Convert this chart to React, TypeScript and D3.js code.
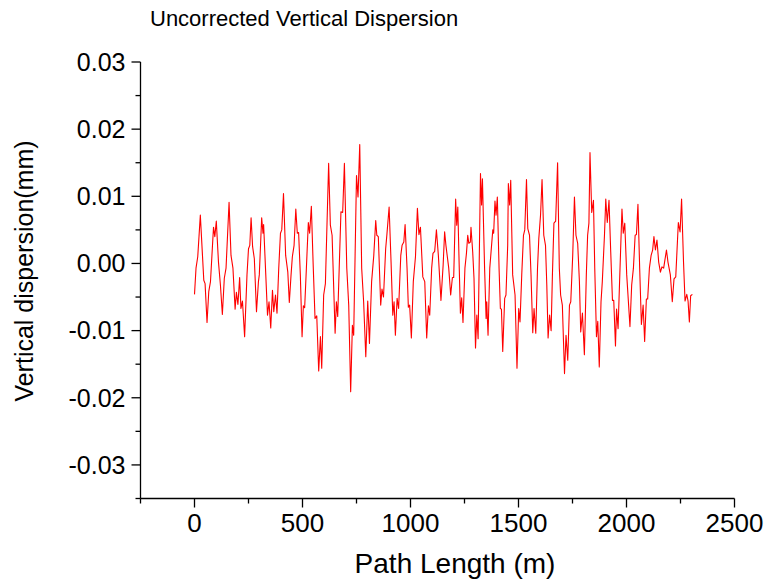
import React from "react";
import * as d3 from "d3";

const pathLength: number[] = [
  0, 7, 15, 27, 43, 49, 58, 66, 74, 88, 94, 101, 111, 120, 129, 138, 146, 160, 169, 178,
  188, 194, 201, 209, 215, 222, 232, 243, 250, 256, 262, 269, 277, 287, 296, 300, 311, 317, 320, 330,
  338, 345, 353, 361, 367, 375, 382, 390, 398, 404, 412, 422, 432, 439, 447, 453, 461, 469, 476, 482,
  490, 498, 504, 510, 518, 527, 533, 541, 549, 558, 566, 575, 583, 589, 598, 606, 621, 629, 637, 651,
  657, 663, 678, 686, 694, 705, 714, 723, 731, 737, 750, 757, 765, 774, 783, 793, 802, 810, 820, 830,
  839, 844, 851, 862, 868, 875, 885, 891, 901, 910, 918, 924, 930, 938, 945, 955, 961, 969, 975, 984,
  990, 996, 1004, 1013, 1023, 1032, 1039, 1046, 1057, 1066, 1075, 1083, 1089, 1098, 1104, 1112, 1120, 1129, 1141, 1151,
  1158, 1164, 1177, 1186, 1194, 1200, 1209, 1214, 1219, 1225, 1231, 1237, 1243, 1252, 1259, 1265, 1270, 1277, 1280, 1288,
  1294, 1301, 1307, 1313, 1324, 1329, 1333, 1343, 1350, 1353, 1359, 1367, 1381, 1385, 1391, 1396, 1402, 1410, 1416, 1421,
  1427, 1436, 1442, 1450, 1453, 1459, 1464, 1473, 1484, 1493, 1501, 1507, 1515, 1523, 1529, 1537, 1543, 1551, 1558, 1566,
  1572, 1580, 1588, 1594, 1602, 1609, 1617, 1625, 1631, 1637, 1644, 1651, 1657, 1664, 1672, 1681, 1689, 1695, 1703, 1713,
  1720, 1728, 1736, 1742, 1751, 1759, 1766, 1774, 1782, 1788, 1796, 1805, 1814, 1820, 1826, 1831, 1839, 1847, 1853, 1861,
  1867, 1874, 1882, 1888, 1898, 1904, 1911, 1919, 1927, 1935, 1941, 1949, 1954, 1961, 1969, 1979, 1985, 1992, 2001, 2016,
  2024, 2032, 2040, 2046, 2053, 2061, 2069, 2077, 2084, 2092, 2098, 2106, 2114, 2121, 2127, 2134, 2141, 2149, 2157, 2164,
  2172, 2185, 2192, 2203, 2212, 2220, 2228, 2240, 2248, 2255, 2264, 2271, 2279, 2285, 2291, 2297, 2305,
];

const verticalDispersion: number[] = [
  -0.0046, -0.0007, 0.001, 0.0072, -0.0025, -0.003, -0.0088, -0.0042, -0.0027, 0.0054, 0.004, 0.0063, 0.0002, -0.0032, -0.0076, -0.0022, -0.0007, 0.0091, 0.0012, -0.0007,
  -0.0068, -0.0043, -0.0061, -0.0021, -0.0067, -0.0056, -0.0109, -0.0017, 0.0022, 0.0027, 0.0068, 0.0025, 0.0007, -0.0072, -0.0027, -0.0017, 0.0068, 0.0045, 0.0058, -0.0017,
  -0.0077, -0.0057, -0.0096, -0.004, -0.0072, -0.0047, -0.0074, -0.0007, 0.0045, 0.005, 0.0104, 0.0012, -0.0013, -0.0058, -0.0017, 0.001, 0.0027, 0.0081, 0.0045, 0.0046,
  -0.0017, -0.0109, -0.0063, -0.0066, -0.0007, 0.0061, 0.0045, 0.0085, 0.0002, -0.0082, -0.0078, -0.016, -0.0109, -0.0156, -0.0047, -0.003, 0.0149, 0.0057, 0.0042, -0.0104,
  -0.0057, -0.0079, 0.0077, 0.0076, 0.0149, -0.0007, -0.0062, -0.0191, -0.0092, -0.0107, 0.0131, 0.0099, 0.0177, -0.0007, -0.0057, -0.0139, -0.0056, -0.0119, -0.0027, 0.0012,
  0.0064, 0.0042, 0.004, -0.0062, -0.0038, -0.005, 0.0022, 0.0044, 0.0084, 0.0002, -0.0077, -0.0057, -0.0107, -0.0052, -0.0067, 0.0012, 0.0027, 0.0032, 0.0058, -0.0007,
  -0.0065, -0.0062, -0.0111, -0.0027, 0.001, 0.0082, 0.0043, 0.0054, -0.002, -0.0027, -0.0111, -0.0063, -0.0077, -0.0007, 0.0015, 0.0018, 0.005, 0.0012, -0.0055, -0.0003,
  0.0047, 0.0027, -0.0007, -0.0047, -0.0021, -0.0021, 0.0096, 0.0057, 0.0084, 0.0002, -0.0074, -0.0051, -0.0088, -0.0007, 0.0015, 0.0042, 0.003, 0.0032, 0.0054, 0.0017,
  -0.0022, -0.0126, -0.0077, -0.0112, 0.0134, 0.0087, 0.0126, -0.0007, -0.0082, -0.0057, -0.0107, -0.0007, 0.005, 0.0045, 0.0093, 0.0072, 0.0099, -0.0007, -0.0067, -0.0068,
  -0.0131, -0.0052, -0.0047, 0.0027, 0.0119, 0.0087, 0.0124, -0.0017, -0.0047, -0.0156, -0.0067, -0.0087, -0.0017, 0.0042, 0.005, 0.0125, 0.0052, 0.0042, -0.0017, -0.0103,
  -0.0067, -0.0104, -0.0007, 0.0037, 0.0072, 0.0125, 0.0042, 0.0027, -0.0032, -0.0111, -0.0077, -0.01, -0.0017, 0.006, 0.0063, 0.015, -0.0007, -0.0047, -0.0062, -0.0164,
  -0.0107, -0.0144, -0.0062, -0.0057, 0.0012, 0.0099, 0.0042, 0.003, -0.0027, -0.0102, -0.0074, -0.0136, -0.0017, 0.0042, 0.006, 0.0165, 0.0076, 0.0094, -0.0007, -0.0109,
  -0.0086, -0.0154, -0.0057, -0.0027, 0.0042, 0.0096, 0.0061, 0.0094, 0.0017, -0.0055, -0.0055, -0.0123, -0.0068, -0.0097, -0.0017, 0.0081, 0.0045, 0.006, -0.0017, -0.0094,
  -0.0032, -0.0007, 0.0042, 0.0043, 0.0088, -0.0007, -0.0091, -0.0062, -0.0116, -0.0053, -0.0053, -0.0007, 0.0012, 0.002, 0.004, 0.002, 0.0035, 0.0002, -0.0013, -0.0005,
  -0.0007, 0.002, 0.0002, -0.0017, -0.0057, -0.0023, -0.002, 0.0061, 0.0047, 0.0096, 0.0002, -0.0056, -0.0046, -0.0056, -0.0087, -0.0048, -0.0046,
];

const xTickValues: number[] = [0, 500, 1000, 1500, 2000, 2500];
const xMinorTicks: number[] = [-250, 250, 750, 1250, 1750, 2250];
const yTickValues: number[] = [-0.03, -0.02, -0.01, 0, 0.01, 0.02, 0.03];
const yMinorTicks: number[] = [-0.035, -0.025, -0.015, -0.005, 0.005, 0.015, 0.025];

const title = "Uncorrected Vertical Dispersion";
const xLabel = "Path Length (m)";
const yLabel = "Vertical dispersion(mm)";

const W = 765;
const H = 581;
const left = 140.5;
const right = 734.5;
const top = 62;
const bottom = 498.5;
const font = "'Liberation Sans', Arial, sans-serif";

const fmtY = (v: number) => d3.format(".2f")(v).replace("\u2212", "-");

export default function App() {
  const x = d3.scaleLinear().domain([-250, 2500]).range([left, right]);
  const y = d3.scaleLinear().domain([-0.035, 0.03]).range([bottom, top]);
  const pts: [number, number][] = pathLength.map((p, i) => [p, verticalDispersion[i]]);
  const line = d3
    .line<[number, number]>()
    .x((d) => x(d[0]))
    .y((d) => y(d[1]));

  return (
    <svg
      width={W}
      height={H}
      style={{ position: "absolute", left: 0, top: 0, background: "#fff" }}
      fontFamily={font}
    >
      <rect x={0} y={0} width={W} height={H} fill="#fff" />
      <text x={150} y={26} fontSize={22} fill="#000">
        {title}
      </text>
      {/* y axis */}
      <line x1={left} x2={left} y1={top} y2={bottom} stroke="#000" strokeWidth={1.3} />
      {yTickValues.map((v) => (
        <g key={"y" + v}>
          <line x1={left - 9} x2={left} y1={y(v)} y2={y(v)} stroke="#000" strokeWidth={1.3} />
          <text x={left - 15} y={y(v)} dy="0.35em" textAnchor="end" fontSize={25} fill="#000">
            {fmtY(v)}
          </text>
        </g>
      ))}
      {yMinorTicks.map((v) => (
        <line key={"ym" + v} x1={left - 5} x2={left} y1={y(v)} y2={y(v)} stroke="#000" strokeWidth={1.3} />
      ))}
      {/* x axis */}
      <line x1={left} x2={right} y1={bottom} y2={bottom} stroke="#000" strokeWidth={1.3} />
      {xTickValues.map((v) => (
        <g key={"x" + v}>
          <line x1={x(v)} x2={x(v)} y1={bottom} y2={bottom + 9} stroke="#000" strokeWidth={1.3} />
          <text x={x(v)} y={bottom + 33} textAnchor="middle" fontSize={26} fill="#000">
            {v}
          </text>
        </g>
      ))}
      {xMinorTicks.map((v) => (
        <line key={"xm" + v} x1={x(v)} x2={x(v)} y1={bottom} y2={bottom + 5} stroke="#000" strokeWidth={1.3} />
      ))}
      <text x={455} y={573} textAnchor="middle" fontSize={28} fill="#000">
        {xLabel}
      </text>
      <text
        transform={`translate(33, 271) rotate(-90)`}
        textAnchor="middle"
        fontSize={25}
        fill="#000"
      >
        {yLabel}
      </text>
      <path d={line(pts) || ""} fill="none" stroke="#ff0000" strokeWidth={1.1} strokeLinejoin="round" />
    </svg>
  );
}
